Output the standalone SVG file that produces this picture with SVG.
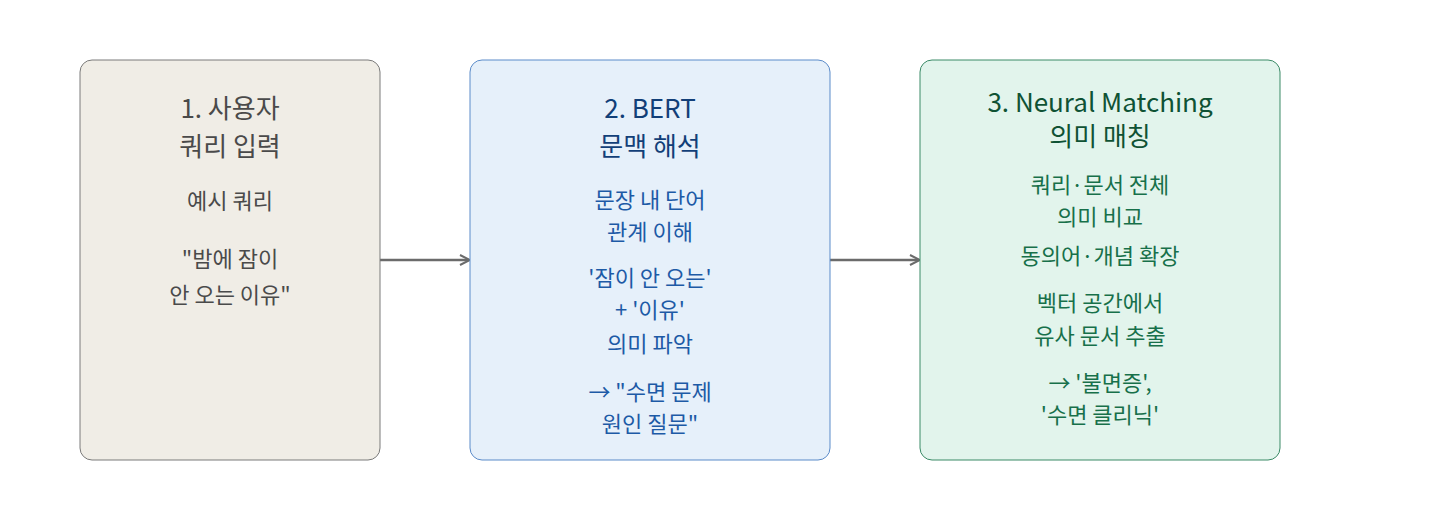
<svg xmlns="http://www.w3.org/2000/svg" width="1440" height="520" viewBox="0 0 1440 520">
<style>
text{font-family:"Noto Sans CJK KR","Noto Sans",sans-serif;text-anchor:middle}
.t{font-size:26px}.b{font-size:22px}
.g1 text{fill:#4a4a4a}.g2 text{fill:#1d5aa6}.g3 text{fill:#17704a}
.g2 .t{fill:#123f78}.g3 .t{fill:#0f5234}
</style>
<defs><marker id="a" markerWidth="12" markerHeight="12" refX="10" refY="6" orient="auto" markerUnits="userSpaceOnUse"><path d="M1,1 L11,6 L1,11" fill="none" stroke="#6b6b6b" stroke-width="2"/></marker></defs>
<rect width="1440" height="520" fill="#fff"/>
<g id="connectors" stroke="#6b6b6b" stroke-width="2.5">
<line x1="380" y1="260" x2="469" y2="260" marker-end="url(#a)"/>
<line x1="830" y1="260" x2="919" y2="260" marker-end="url(#a)"/>
</g>
<g id="n1" class="g1">
<rect x="80" y="60" width="300" height="400" rx="12" fill="#f0ede6" stroke="#7a7a7a" stroke-width="1"/>
<text class="t" x="230" y="118">1. 사용자</text><text class="t" x="230" y="156">쿼리 입력</text>
<text class="b" x="230" y="209">예시 쿼리</text>
<text class="b" x="230" y="267">"밤에 잠이</text><text class="b" x="230" y="303">안 오는 이유"</text>
</g>
<g id="n2" class="g2">
<rect x="470" y="60" width="360" height="400" rx="12" fill="#e6f0fa" stroke="#5b8bc9" stroke-width="1"/>
<text class="t" x="650" y="118">2. BERT</text><text class="t" x="650" y="156">문맥 해석</text>
<text class="b" x="650" y="208">문장 내 단어</text><text class="b" x="650" y="240">관계 이해</text>
<text class="b" x="650" y="286">'잠이 안 오는'</text><text class="b" x="650" y="318">+ '이유'</text><text class="b" x="650" y="352">의미 파악</text>
<text class="b" x="650" y="400">→ "수면 문제</text><text class="b" x="650" y="432">원인 질문"</text>
</g>
<g id="n3" class="g3">
<rect x="920" y="60" width="360" height="400" rx="12" fill="#e2f4ec" stroke="#3a8a66" stroke-width="1"/>
<text class="t" x="1100" y="112">3. Neural Matching</text><text class="t" x="1100" y="146">의미 매칭</text>
<text class="b" x="1100" y="193">쿼리·문서 전체</text><text class="b" x="1100" y="225">의미 비교</text>
<text class="b" x="1100" y="264">동의어·개념 확장</text>
<text class="b" x="1100" y="311">벡터 공간에서</text><text class="b" x="1100" y="344">유사 문서 추출</text>
<text class="b" x="1100" y="391">→ '불면증',</text><text class="b" x="1100" y="423">'수면 클리닉'</text>
</g>
</svg>
